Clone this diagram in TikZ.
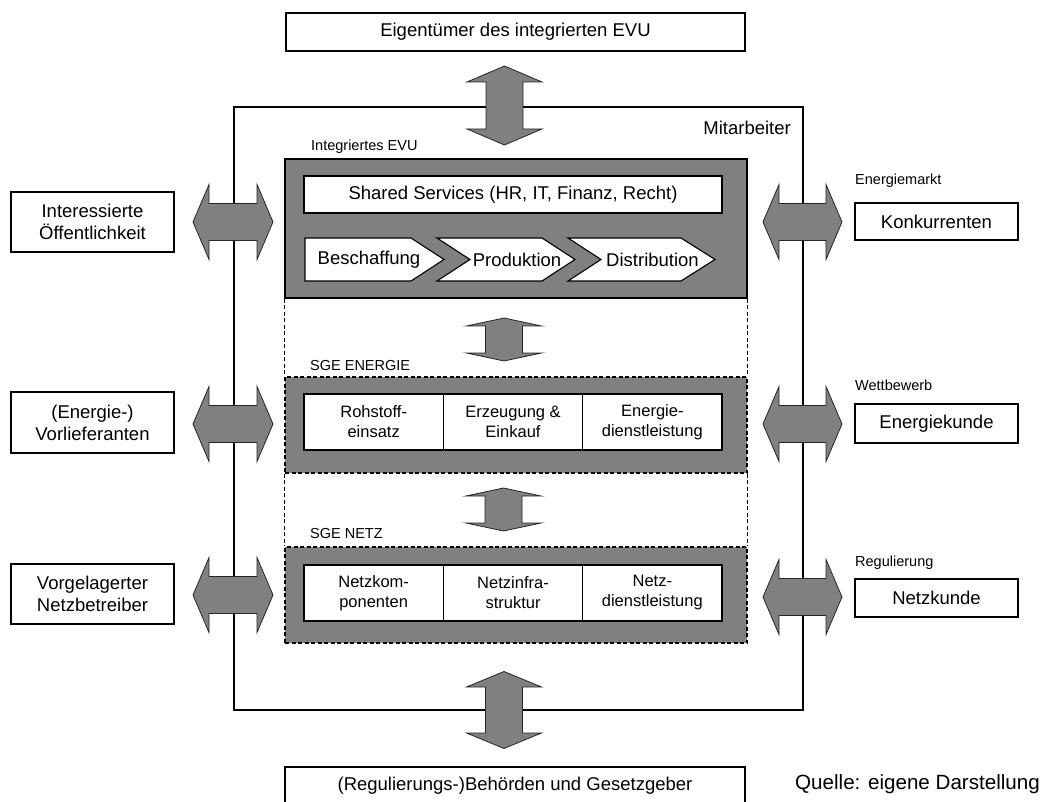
\documentclass[tikz,border=0pt]{standalone}
\usepackage{fontspec}
\setmainfont{Liberation Sans}
\newcommand\bigtxt{\fontsize{18.5}{22}\selectfont}
\newcommand\celltxt{\fontsize{16.5}{20}\selectfont}
\newcommand\smalltxt{\fontsize{14.5}{17}\selectfont}
\newcommand\srctxt{\fontsize{20.6}{24}\selectfont}
\definecolor{blockgray}{HTML}{808080}
\begin{document}
\begin{tikzpicture}[x=1pt,y=-1pt,
  box/.style={draw=black, line width=1.1pt, fill=white, align=center,
    inner sep=0pt, font=\bigtxt},
  cell/.style={draw=black, line width=1.1pt, fill=white, align=center,
    inner sep=0pt, font=\celltxt, minimum width=139.33pt, minimum height=56pt},
  unit/.style={draw=black, line width=1.1pt, fill=blockgray, inner sep=0pt,
    minimum width=462pt},
  sgeunit/.style={unit, dashed, dash pattern=on 4pt off 2.5pt},
  sidelink/.style={draw=black, line width=0.9pt, dash pattern=on 4pt off 2.5pt},
  tag/.style={anchor=west, inner sep=0pt, font=\smalltxt},
  chev/.style={draw=black, line width=1.1pt, fill=white},
  arrowstyle/.style={draw=black!85, line width=0.8pt, fill=blockgray},
  pics/dblarrow/.style 2 args={code={
    \filldraw[arrowstyle] (0,{-#1}) -- (37.5,{-#1+#2}) -- (18.5,{-#1+#2})
      -- (18.5,{#1-#2}) -- (37.5,{#1-#2}) -- (0,{#1}) -- (-37.5,{#1-#2})
      -- (-18.5,{#1-#2}) -- (-18.5,{-#1+#2}) -- (-37.5,{-#1+#2}) -- cycle;
  }}
]
\useasboundingbox (0,0) rectangle (1047,802);

% company frame (employees)
\node[draw=black, line width=1.2pt, minimum width=569pt, minimum height=603pt,
  inner sep=0pt] (frame) at (518.5,408.5) {};
\node[anchor=east, inner sep=0pt, font=\bigtxt] (staff) at (791,128) {Mitarbeiter};

% owners and authorities
\node[box, minimum width=459pt, minimum height=38pt] (owner) at (515.5,32)
  {Eigentümer des integrierten EVU};
\node[box, minimum width=460pt, minimum height=38pt] (authority) at (515,786)
  {(Regulierungs-)Behörden und Gesetzgeber};

% integrated utility
\node[unit, minimum height=139pt] (evu) at (516,228.5) {};
\node[tag] (evulabel) at (311,147) {Integriertes EVU};
\node[box, minimum width=418pt, minimum height=37pt] (shared) at (513,194.5)
  {Shared Services (HR, IT, Finanz, Recht)};

% value chain
\draw[chev] (305,238) -- (411,238) -- (444,259.5) -- (411,281) -- (305,281) -- cycle;
\draw[chev] (437,238) -- (542,238) -- (575,259.5) -- (542,281) -- (437,281)
  -- (470,259.5) -- cycle;
\draw[chev] (568,238) -- (681,238) -- (715,259.5) -- (681,281) -- (568,281)
  -- (601,259.5) -- cycle;
\node[font=\bigtxt, inner sep=0pt] (besch) at (369,259.5) {Beschaffung};
\node[font=\bigtxt, inner sep=0pt] (prod) at (517,259.5) {Produktion};
\node[font=\bigtxt, inner sep=0pt] (distr) at (652.5,259.5) {Distribution};

% business unit energy
\node[sgeunit, minimum height=96pt] (sgeE) at (516,425) {};
\node[tag] (sgeElabel) at (310,366) {SGE ENERGIE};
\node[cell] (rohstoff) at (373.67,422) {Rohstoff-\\einsatz};
\node[cell] (erzeugung) at (513,422) {Erzeugung \&\\Einkauf};
\node[cell] (edienst) at (652.33,422) {Energie-\\dienstleistung};

% business unit grid
\node[sgeunit, minimum height=96pt] (sgeN) at (516,595) {};
\node[tag] (sgeNlabel) at (310,534) {SGE NETZ};
\node[cell] (komp) at (373.67,593) {Netzkom-\\ponenten};
\node[cell] (infra) at (513,593) {Netzinfra-\\struktur};
\node[cell] (ndienst) at (652.33,593) {Netz-\\dienstleistung};

% dashed links between the units
\draw[sidelink] (evu.south west) -- (sgeE.north west);
\draw[sidelink] (evu.south east) -- (sgeE.north east);
\draw[sidelink] (sgeE.south west) -- (sgeN.north west);
\draw[sidelink] (sgeE.south east) -- (sgeN.north east);

% outside stakeholders, left
\node[box, minimum width=163pt, minimum height=60pt] (public) at (92.5,222)
  {Interessierte\\Öffentlichkeit};
\node[box, minimum width=163pt, minimum height=61pt] (supplier) at (92.5,422.5)
  {(Energie-)\\Vorlieferanten};
\node[box, minimum width=163pt, minimum height=60pt] (upstream) at (92.5,594)
  {Vorgelagerter\\Netzbetreiber};

% outside stakeholders, right
\node[tag] (market) at (855,181) {Energiemarkt};
\node[box, minimum width=163pt, minimum height=37pt] (rivals) at (936.5,221.5)
  {Konkurrenten};
\node[tag] (competition) at (855,385) {Wettbewerb};
\node[box, minimum width=163pt, minimum height=39pt] (ecustomer) at (936.5,423.5)
  {Energiekunde};
\node[tag] (regulation) at (855,563) {Regulierung};
\node[box, minimum width=163pt, minimum height=38pt] (ncustomer) at (936.5,598)
  {Netzkunde};

% exchange arrows
\pic at (504.5,105.5) {dblarrow={39.5}{16}};
\pic at (504,710) {dblarrow={38.5}{15.5}};
\pic at (504,339.5) {dblarrow={21.5}{8}};
\pic at (503.5,509.5) {dblarrow={21.5}{8}};
\pic[rotate=90] at (233,222) {dblarrow={40}{16}};
\pic[rotate=90] at (233,424) {dblarrow={40}{16}};
\pic[rotate=90] at (233,595) {dblarrow={40}{16}};
\pic[rotate=90] at (802.5,222) {dblarrow={39.5}{16}};
\pic[rotate=90] at (802.5,424) {dblarrow={39.5}{16}};
\pic[rotate=90] at (802.5,597) {dblarrow={39.5}{16}};

% source note
\node[anchor=west, inner sep=0pt, font=\srctxt] (source) at (795,784)
  {Quelle: eigene Darstellung};
\end{tikzpicture}
\end{document}
